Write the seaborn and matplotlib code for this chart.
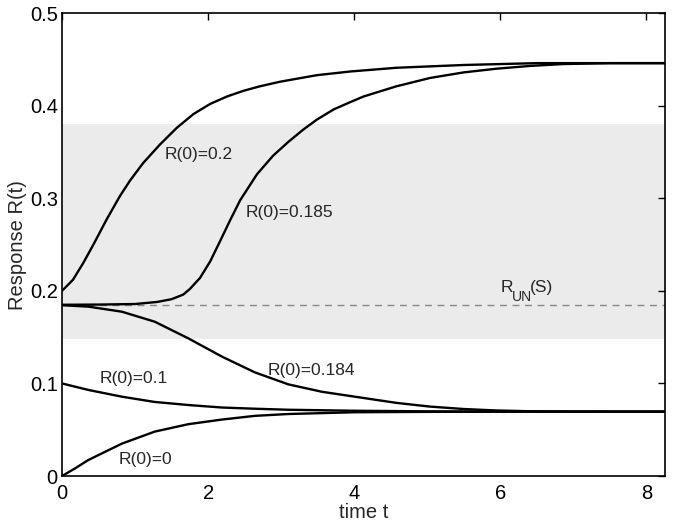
import matplotlib
matplotlib.use("Agg")
import matplotlib.pyplot as plt
import seaborn as sns
import pandas as pd

sns.set_style("white")
plt.rcParams['font.family'] = ['Liberation Sans', 'DejaVu Sans']

# curves
t_020 = [0, 0.15, 0.29, 0.43, 0.61, 0.79, 0.93, 1.11, 1.34, 1.57, 1.80, 2.03, 2.26, 2.48,
         2.71, 2.99, 3.49, 3.95, 4.58, 5.5, 6.5, 8.26]
r_020 = [0.200, 0.212, 0.230, 0.250, 0.277, 0.302, 0.319, 0.338, 0.358, 0.376, 0.391, 0.402,
         0.410, 0.416, 0.421, 0.426, 0.433, 0.437, 0.441, 0.444, 0.446, 0.446]

t_0185 = [0, 0.5, 1.0, 1.3, 1.5, 1.66, 1.75, 1.89, 2.03, 2.16, 2.30, 2.44, 2.67, 2.89, 3.10,
          3.30, 3.49, 3.72, 3.95, 4.13, 4.58, 5.04, 5.5, 5.95, 6.41, 6.86, 7.5, 8.26]
r_0185 = [0.185, 0.1852, 0.1858, 0.188, 0.191, 0.196, 0.202, 0.214, 0.232, 0.253, 0.276, 0.298,
          0.326, 0.346, 0.361, 0.374, 0.385, 0.396, 0.404, 0.410, 0.421, 0.430, 0.436, 0.440,
          0.443, 0.445, 0.446, 0.446]

t_0184 = [0, 0.36, 0.82, 1.27, 1.73, 2.19, 2.64, 3.10, 3.56, 4.01, 4.58, 5.04, 5.5, 5.95,
          6.41, 7.0, 8.26]
r_0184 = [0.1845, 0.183, 0.1775, 0.1667, 0.1487, 0.129, 0.112, 0.099, 0.091, 0.0857, 0.079,
          0.075, 0.0724, 0.0708, 0.070, 0.0697, 0.0695]

t_01 = [0, 0.36, 0.82, 1.27, 1.73, 2.19, 2.64, 3.1, 4.01, 5.0, 6.0, 8.26]
r_01 = [0.100, 0.093, 0.0857, 0.080, 0.0767, 0.074, 0.0727, 0.0716, 0.0705, 0.0699, 0.0696, 0.0695]

t_00 = [0, 0.18, 0.36, 0.82, 1.27, 1.73, 2.19, 2.64, 3.1, 4.01, 5.0, 6.0, 8.26]
r_00 = [0.0, 0.0083, 0.0173, 0.035, 0.048, 0.056, 0.061, 0.065, 0.067, 0.0689, 0.0693, 0.0695, 0.0695]

band_lo, band_hi = 0.148, 0.38
r_un = 0.185

labels = ['R(0)=0.2', 'R(0)=0.185', 'R(0)=0.184', 'R(0)=0.1', 'R(0)=0']
label_pos = [(1.41, 0.347), (2.51, 0.285), (2.82, 0.1145), (0.52, 0.1055), (0.77, 0.018)]

frames = []
for lab, t, r in zip(labels, [t_020, t_0185, t_0184, t_01, t_00],
                     [r_020, r_0185, r_0184, r_01, r_00]):
    frames.append(pd.DataFrame({'t': t, 'R': r, 'curve': lab}))
df = pd.concat(frames, ignore_index=True)

fig = plt.figure(figsize=(6.74, 5.26), dpi=100)
ax = fig.add_axes([0.092, 0.095, 0.895, 0.88])

ax.axhspan(band_lo, band_hi, color='#ebebeb', lw=0, zorder=0)
ax.axhline(r_un, color='#888888', ls=(0, (5, 4)), lw=1, zorder=1)

sns.lineplot(data=df, x='t', y='R', units='curve', estimator=None, color='black',
             lw=1.7, sort=False, ax=ax, zorder=2)

for lab, (x, y) in zip(labels, label_pos):
    ax.text(x, y, lab, fontsize=12.5, ha='left', va='center')
# R_UN(S) with a lowered subscript
ax.text(6.0, 0.204, 'R', fontsize=12.5, ha='left', va='center')
ax.text(6.16, 0.193, 'UN', fontsize=10, ha='left', va='center')
ax.text(6.41, 0.204, '(S)', fontsize=12.5, ha='left', va='center')

ax.set_xlim(0, 8.26)
ax.set_ylim(0, 0.5)
ax.set_xticks([0, 2, 4, 6, 8])
ax.set_yticks([0, 0.1, 0.2, 0.3, 0.4, 0.5])
ax.set_yticklabels(['0', '0.1', '0.2', '0.3', '0.4', '0.5'])
ax.tick_params(direction='in', length=5, width=1, top=True, right=True,
               labelsize=14.5, colors='black')
ax.tick_params(axis='x', pad=6)
ax.tick_params(axis='y', pad=3)
for s in ax.spines.values():
    s.set_color('black')
    s.set_linewidth(1.2)
ax.set_xlabel('time t', fontsize=14.5, labelpad=0)
ax.set_ylabel('Response R(t)', fontsize=14.5, labelpad=2)

fig.savefig('out.png', dpi=100)
